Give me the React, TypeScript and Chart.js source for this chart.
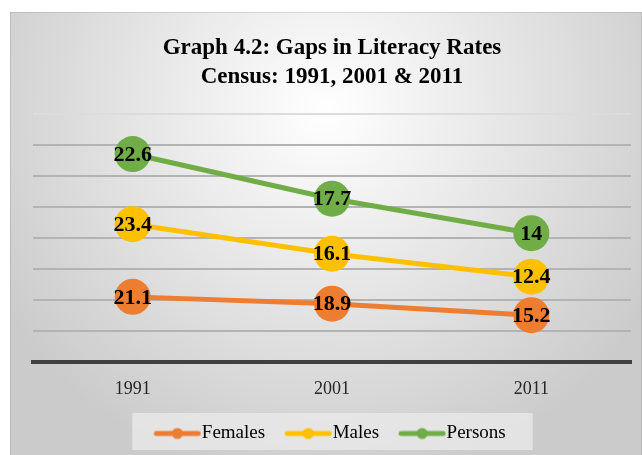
import React, { useEffect, useRef } from 'react';
import { Chart, registerables } from 'chart.js';

Chart.register(...registerables);

const categories = ['1991', '2001', '2011'];
const females = [21.1, 18.9, 15.2];
const males = [23.4, 16.1, 12.4];
const persons = [22.6, 17.7, 14];
const seriesNames = ['Females', 'Males', 'Persons'];
const seriesColors = ['#ED7D31', '#FFC000', '#70AD47'];
const titleLines = ['Graph 4.2: Gaps in Literacy Rates', 'Census: 1991, 2001 & 2011'];

const FONT = "'Liberation Serif', 'Times New Roman', serif";

function legendImage(color: string) {
  const c = document.createElement('canvas');
  c.width = 66;
  c.height = 14;
  const ctx = c.getContext('2d')!;
  ctx.strokeStyle = color;
  ctx.lineWidth = 5;
  ctx.lineCap = 'round';
  ctx.beginPath();
  ctx.moveTo(21, 7);
  ctx.lineTo(63, 7);
  ctx.stroke();
  ctx.fillStyle = color;
  ctx.beginPath();
  ctx.arc(42, 7, 5.5, 0, Math.PI * 2);
  ctx.fill();
  return c;
}

const backgroundPlugin = {
  id: 'bgPlugin',
  beforeDraw(chart: any) {
    const { ctx, width, height } = chart;
    ctx.save();
    const cx = width * 0.5;
    const cy = height * 0.22;
    const g = ctx.createRadialGradient(cx, cy, 0, cx, cy, width * 0.6);
    g.addColorStop(0, '#ffffff');
    g.addColorStop(1, '#cbcbcb');
    ctx.fillStyle = g;
    ctx.fillRect(0, 0, width, height);
    ctx.strokeStyle = 'rgba(0,0,0,0.10)';
    ctx.lineWidth = 1;
    ctx.strokeRect(0.5, 0.5, width - 1, height + 2);
    const lg = chart.legend;
    if (lg && lg.legendHitBoxes && lg.legendHitBoxes.length) {
      const hbs = lg.legendHitBoxes;
      let l = Infinity, r = -Infinity, t = Infinity, b = -Infinity;
      hbs.forEach((h: any) => {
        l = Math.min(l, h.left);
        r = Math.max(r, h.left + h.width);
        t = Math.min(t, h.top);
        b = Math.max(b, h.top + h.height);
      });
      ctx.fillStyle = 'rgba(235,235,235,0.75)';
      ctx.fillRect(l - 12, t - 11, r - l + 39, b - t + 18);
    }
    ctx.restore();
  },
};

const valueLabelPlugin = {
  id: 'valueLabels',
  afterDatasetsDraw(chart: any) {
    const { ctx } = chart;
    ctx.save();
    ctx.font = `bold 22px ${FONT}`;
    ctx.fillStyle = '#000000';
    ctx.textAlign = 'center';
    ctx.textBaseline = 'middle';
    chart.data.datasets.forEach((ds: any, i: number) => {
      const meta = chart.getDatasetMeta(i);
      meta.data.forEach((pt: any, j: number) => {
        ctx.fillText(String(ds.data[j]), pt.x, pt.y + 1);
      });
    });
    ctx.restore();
  },
};

export default function App() {
  const ref = useRef<HTMLCanvasElement | null>(null);

  useEffect(() => {
    if (!ref.current) return;
    const seriesData = [females, males, persons];
    const images = seriesColors.map((c) => legendImage(c));
    const chart = new Chart(ref.current, {
      type: 'line',
      data: {
        labels: categories,
        datasets: seriesNames.map((name, i) => ({
          label: name,
          data: seriesData[i],
          borderColor: seriesColors[i],
          backgroundColor: seriesColors[i],
          borderWidth: 5,
          pointRadius: 18,
          pointHoverRadius: 18,
          pointBorderWidth: 0,
          pointBackgroundColor: seriesColors[i],
          tension: 0,
          fill: false,
          clip: false,
          stack: 'all',
        })),
      },
      options: {
        responsive: false,
        animation: false,
        devicePixelRatio: 1,
        layout: { autoPadding: false, padding: { left: 9, right: 11, top: 0, bottom: 2 } },
        plugins: {
          title: {
            display: true,
            fullSize: false,
            text: titleLines,
            color: '#000000',
            font: { family: FONT, size: 23, weight: 'bold', lineHeight: 1.26 },
            padding: { top: 22, bottom: 22 },
          },
          legend: {
            display: true,
            position: 'bottom',
            labels: {
              usePointStyle: true,
              pointStyleWidth: 48,
              padding: 10,
              color: '#000000',
              font: { family: FONT, size: 19 },
              generateLabels: (c: any) => {
                const base = (Chart as any).defaults.plugins.legend.labels.generateLabels(c);
                return base.map((it: any, i: number) => ({ ...it, pointStyle: images[i] }));
              },
            },
          },
          tooltip: { enabled: false },
        },
        scales: {
          x: {
            offset: true,
            grid: { display: false, drawTicks: false },
            border: { display: true, color: '#404040', width: 4 },
            ticks: { color: '#262626', font: { family: FONT, size: 18 }, padding: 16 },
            afterFit: (scale: any) => {
              scale.height -= 2;
            },
          },
          y: {
            stacked: true,
            min: 0,
            max: 80,
            ticks: { display: false, stepSize: 10 },
            border: { display: false },
            afterFit: (scale: any) => {
              scale.width = 14;
            },
            grid: {
              drawTicks: false,
              lineWidth: 2,
              color: (ctx: any) => {
                const v = ctx.tick ? ctx.tick.value : 0;
                if (v === 0) return 'rgba(0,0,0,0)';
                if (v === 80) return '#dcdcdc';
                return '#b3b3b3';
              },
            },
          },
        },
      } as any,
      plugins: [backgroundPlugin, valueLabelPlugin],
    });
    return () => chart.destroy();
  }, []);

  return (
    <div style={{ position: 'absolute', left: 10, top: 12, width: 632, height: 443 }}>
      <canvas ref={ref} width={632} height={443} />
    </div>
  );
}
